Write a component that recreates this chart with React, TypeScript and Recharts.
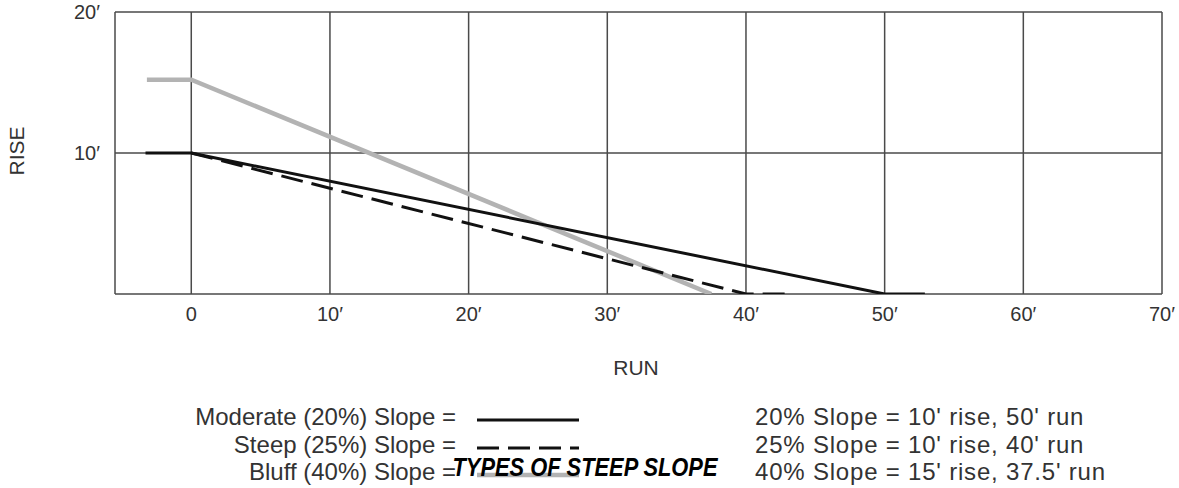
import { LineChart, Line, XAxis, YAxis, CartesianGrid } from "recharts";

// run (ft) / rise (ft)
const moderateRun = [-3.3, 0, 50, 52.9];
const moderateRise = [10, 10, 0, 0];
const steepRun = [0, 40, 43.4];
const steepRise = [10, 0, 0];
const bluffRun = [-3.2, 0, 37.5];
const bluffRise = [15.2, 15.2, 0];

const runTicks = [0, 10, 20, 30, 40, 50, 60, 70];
const riseTicks = [0, 10, 20];

const legendLabels = ["Moderate (20%) Slope =", "Steep (25%) Slope =", "Bluff (40%) Slope ="];
const notes = ["20% Slope = 10' rise, 50' run", "25% Slope = 10' rise, 40' run", "40% Slope = 15' rise, 37.5' run"];

const toPoints = (run: number[], rise: number[]) => run.map((r, i) => ({ run: r, rise: rise[i] }));

const series = [
  { name: "moderate", data: toPoints(moderateRun, moderateRise), stroke: "#111", width: 3, dash: undefined },
  { name: "steep", data: toPoints(steepRun, steepRise), stroke: "#111", width: 3, dash: "22 9" },
  { name: "bluff", data: toPoints(bluffRun, bluffRise), stroke: "#b3b3b3", width: 4.5, dash: undefined },
];

const font = '"Liberation Sans", Arial, Helvetica, sans-serif';
const textColor = "#333";

export default function App() {
  const drawOrder = [series[2], series[0], series[1]];
  return (
    <div style={{ position: "absolute", left: 0, top: 0, width: 1179, height: 488, background: "#fff", fontFamily: font }}>
      <LineChart width={1179} height={488} margin={{ top: 12, right: 17, bottom: 164, left: 55 }}>
        <CartesianGrid stroke="#4a4a4a" strokeWidth={1.5} />
        <XAxis
          type="number"
          dataKey="run"
          domain={[-5.5, 70]}
          ticks={runTicks}
          allowDataOverflow
          axisLine={false}
          tickLine={false}
          height={30}
          tickMargin={7}
          tick={{ fill: textColor, fontSize: 20, fontFamily: font }}
          tickFormatter={(v: number) => (v === 0 ? "0" : `${v}′`)}
        />
        <YAxis
          type="number"
          domain={[0, 20]}
          ticks={riseTicks}
          allowDataOverflow
          axisLine={false}
          tickLine={false}
          width={60}
          tickMargin={9}
          tick={{ fill: textColor, fontSize: 20, fontFamily: font }}
          tickFormatter={(v: number) => (v === 0 ? "" : `${v}′`)}
        />
        {drawOrder.map((s) => (
          <Line
            key={s.name}
            data={s.data}
            dataKey="rise"
            type="linear"
            stroke={s.stroke}
            strokeWidth={s.width}
            strokeDasharray={s.dash}
            dot={false}
            activeDot={false}
            isAnimationActive={false}
          />
        ))}
      </LineChart>

      <div style={{ position: "absolute", left: 17, top: 151, transform: "translate(-50%, -50%) rotate(-90deg)", fontSize: 21, color: textColor }}>
        RISE
      </div>
      <div style={{ position: "absolute", left: 636, top: 368, transform: "translate(-50%, -50%)", fontSize: 21, color: textColor }}>
        RUN
      </div>

      {legendLabels.map((label, i) => {
        const s = series[i];
        const y = 417 + i * 27.5;
        return (
          <div key={label}>
            <div style={{ position: "absolute", right: 1179 - 456, top: y, transform: "translateY(-50%)", fontSize: 24, color: textColor, whiteSpace: "nowrap" }}>
              {label}
            </div>
            <svg style={{ position: "absolute", left: 476, top: y - 1 }} width={104} height={8}>
              <line x1={1} y1={4} x2={103} y2={4} stroke={s.stroke} strokeWidth={s.width} strokeDasharray={s.dash} />
            </svg>
          </div>
        );
      })}

      {notes.map((n, i) => (
        <div
          key={n}
          style={{ position: "absolute", left: 755, top: 417 + i * 27.5, transform: "translateY(-50%)", fontSize: 24, letterSpacing: 0.8, color: textColor, whiteSpace: "nowrap" }}
        >
          {n}
        </div>
      ))}

      <div
        style={{
          position: "absolute",
          left: 585,
          top: 467,
          transform: "translate(-50%, -50%) scaleX(0.84)",
          fontFamily: font,
          fontWeight: 900,
          fontStyle: "italic",
          fontSize: 26,
          color: "#000",
          whiteSpace: "nowrap",
        }}
      >
        TYPES OF STEEP SLOPE
      </div>
    </div>
  );
}
